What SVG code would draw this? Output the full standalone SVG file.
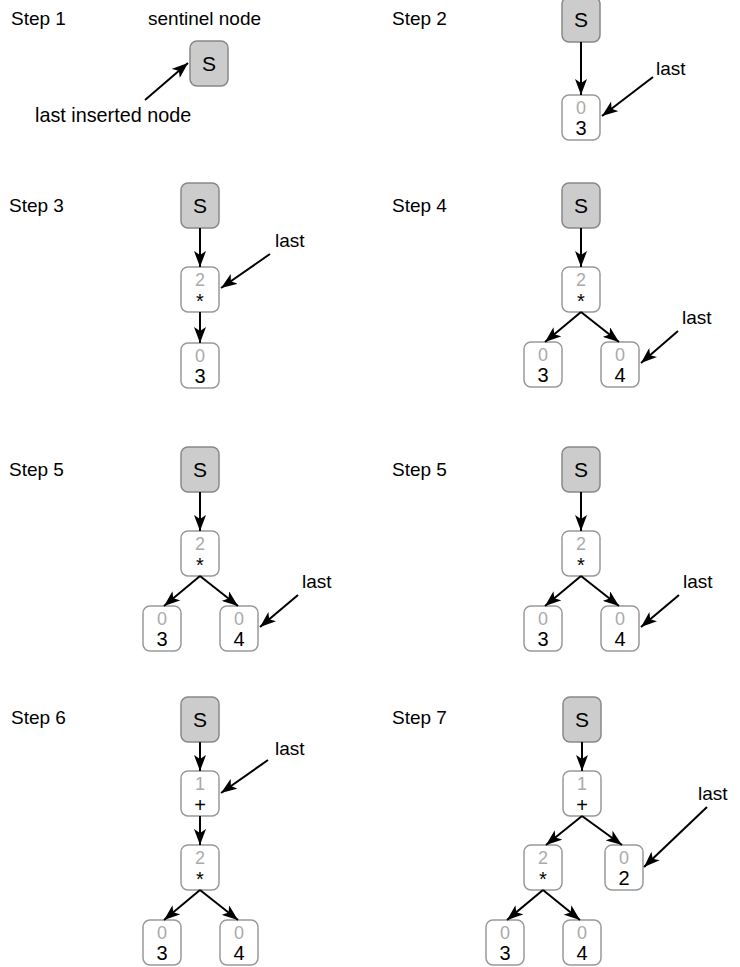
<svg xmlns="http://www.w3.org/2000/svg" width="740" height="967" viewBox="0 0 740 967">
  <style>
    text { font-family: "Liberation Sans", Arial, Helvetica, sans-serif; fill: #000; }
    .lbl { font-size: 19px; }
    .sent rect { fill: #cccccc; stroke: #888888; stroke-width: 1.5; }
    .sent text { font-size: 21px; text-anchor: middle; }
    .node rect { fill: #ffffff; stroke: #999999; stroke-width: 1.5; }
    .node .cnt { font-size: 18px; fill: #aaaaaa; text-anchor: middle; }
    .node .val { font-size: 20px; text-anchor: middle; }
    .edges line { stroke: #000; stroke-width: 2; marker-end: url(#arrow); }
  </style>
  <defs>
    <marker id="arrow" viewBox="0 0 16 12" refX="16" refY="6" markerWidth="16" markerHeight="12" markerUnits="userSpaceOnUse" orient="auto">
      <path d="M0,0 L16,6 L0,12 L4,6 Z" fill="#000"/>
    </marker>
  </defs>

  <rect width="740" height="967" fill="#ffffff"/>

  <!-- step labels and pointer captions -->
  <g id="labels" class="lbl">
    <text x="11" y="25">Step 1</text>
    <text x="148" y="25">sentinel node</text>
    <text x="35" y="122" style="font-size:19.8px">last inserted node</text>
    <text x="392" y="25">Step 2</text>
    <text x="656" y="75">last</text>
    <text x="9" y="212">Step 3</text>
    <text x="275" y="247">last</text>
    <text x="392" y="212">Step 4</text>
    <text x="682" y="324">last</text>
    <text x="9" y="476">Step 5</text>
    <text x="302" y="588">last</text>
    <text x="392" y="476">Step 5</text>
    <text x="683" y="588">last</text>
    <text x="11" y="724">Step 6</text>
    <text x="275" y="755">last</text>
    <text x="392" y="724">Step 7</text>
    <text x="698" y="800">last</text>
  </g>

  <!-- Step 1 -->
  <g id="s1-sentinel" class="sent"><rect x="190" y="41" width="38" height="45" rx="7"/><text x="209" y="71">S</text></g>

  <!-- Step 2 -->
  <g id="s2-sentinel" class="sent"><rect x="562" y="-3" width="38" height="45" rx="7"/><text x="581" y="27">S</text></g>
  <g id="s2-n3" class="node"><rect x="562" y="95" width="38" height="45" rx="7"/><text class="cnt" x="581" y="114">0</text><text class="val" x="581" y="135">3</text></g>

  <!-- Step 3 -->
  <g id="s3-sentinel" class="sent"><rect x="181" y="183" width="38" height="45" rx="7"/><text x="200" y="213">S</text></g>
  <g id="s3-mul" class="node"><rect x="181" y="267" width="38" height="45" rx="7"/><text class="cnt" x="200" y="286">2</text><text class="val" x="200" y="308">*</text></g>
  <g id="s3-n3" class="node"><rect x="181" y="343" width="38" height="45" rx="7"/><text class="cnt" x="200" y="362">0</text><text class="val" x="200" y="383">3</text></g>

  <!-- Step 4 -->
  <g id="s4-sentinel" class="sent"><rect x="562" y="183" width="38" height="45" rx="7"/><text x="581" y="213">S</text></g>
  <g id="s4-mul" class="node"><rect x="562" y="267" width="38" height="45" rx="7"/><text class="cnt" x="581" y="286">2</text><text class="val" x="581" y="308">*</text></g>
  <g id="s4-n3" class="node"><rect x="524" y="342" width="38" height="45" rx="7"/><text class="cnt" x="543" y="361">0</text><text class="val" x="543" y="382">3</text></g>
  <g id="s4-n4" class="node"><rect x="601" y="342" width="38" height="45" rx="7"/><text class="cnt" x="620" y="361">0</text><text class="val" x="620" y="382">4</text></g>

  <!-- Step 5 (left) -->
  <g id="s5a-sentinel" class="sent"><rect x="181" y="447" width="38" height="45" rx="7"/><text x="200" y="477">S</text></g>
  <g id="s5a-mul" class="node"><rect x="181" y="531" width="38" height="45" rx="7"/><text class="cnt" x="200" y="550">2</text><text class="val" x="200" y="572">*</text></g>
  <g id="s5a-n3" class="node"><rect x="143" y="606" width="38" height="45" rx="7"/><text class="cnt" x="162" y="625">0</text><text class="val" x="162" y="646">3</text></g>
  <g id="s5a-n4" class="node"><rect x="220" y="606" width="38" height="45" rx="7"/><text class="cnt" x="239" y="625">0</text><text class="val" x="239" y="646">4</text></g>

  <!-- Step 5 (right) -->
  <g id="s5b-sentinel" class="sent"><rect x="562" y="447" width="38" height="45" rx="7"/><text x="581" y="477">S</text></g>
  <g id="s5b-mul" class="node"><rect x="562" y="531" width="38" height="45" rx="7"/><text class="cnt" x="581" y="550">2</text><text class="val" x="581" y="572">*</text></g>
  <g id="s5b-n3" class="node"><rect x="524" y="606" width="38" height="45" rx="7"/><text class="cnt" x="543" y="625">0</text><text class="val" x="543" y="646">3</text></g>
  <g id="s5b-n4" class="node"><rect x="601" y="606" width="38" height="45" rx="7"/><text class="cnt" x="620" y="625">0</text><text class="val" x="620" y="646">4</text></g>

  <!-- Step 6 -->
  <g id="s6-sentinel" class="sent"><rect x="181" y="697" width="38" height="45" rx="7"/><text x="200" y="727">S</text></g>
  <g id="s6-add" class="node"><rect x="181" y="771" width="38" height="45" rx="7"/><text class="cnt" x="200" y="790">1</text><text class="val" x="200" y="812">+</text></g>
  <g id="s6-mul" class="node"><rect x="181" y="845" width="38" height="45" rx="7"/><text class="cnt" x="200" y="864">2</text><text class="val" x="200" y="886">*</text></g>
  <g id="s6-n3" class="node"><rect x="143" y="920" width="38" height="45" rx="7"/><text class="cnt" x="162" y="939">0</text><text class="val" x="162" y="960">3</text></g>
  <g id="s6-n4" class="node"><rect x="220" y="920" width="38" height="45" rx="7"/><text class="cnt" x="239" y="939">0</text><text class="val" x="239" y="960">4</text></g>

  <!-- Step 7 -->
  <g id="s7-sentinel" class="sent"><rect x="563" y="697" width="38" height="45" rx="7"/><text x="582" y="727">S</text></g>
  <g id="s7-add" class="node"><rect x="563" y="771" width="38" height="45" rx="7"/><text class="cnt" x="582" y="790">1</text><text class="val" x="582" y="812">+</text></g>
  <g id="s7-mul" class="node"><rect x="524" y="845" width="38" height="45" rx="7"/><text class="cnt" x="543" y="864">2</text><text class="val" x="543" y="886">*</text></g>
  <g id="s7-n2" class="node"><rect x="605" y="845" width="38" height="45" rx="7"/><text class="cnt" x="624" y="864">0</text><text class="val" x="624" y="885">2</text></g>
  <g id="s7-n3" class="node"><rect x="486" y="920" width="38" height="45" rx="7"/><text class="cnt" x="505" y="939">0</text><text class="val" x="505" y="960">3</text></g>
  <g id="s7-n4" class="node"><rect x="563" y="920" width="38" height="45" rx="7"/><text class="cnt" x="582" y="939">0</text><text class="val" x="582" y="960">4</text></g>

  <!-- connectors: tree edges and "last" pointers -->
  <g id="connectors" class="edges">
    <line x1="145" y1="100" x2="188" y2="63"/>

    <line x1="581" y1="42" x2="581" y2="95"/>
    <line x1="653" y1="77" x2="602" y2="116"/>

    <line x1="200" y1="228" x2="200" y2="267"/>
    <line x1="200" y1="312" x2="200" y2="343"/>
    <line x1="270" y1="254" x2="221" y2="288"/>

    <line x1="581" y1="228" x2="581" y2="267"/>
    <line x1="581" y1="312" x2="545" y2="342"/>
    <line x1="581" y1="312" x2="619" y2="342"/>
    <line x1="678" y1="331" x2="641" y2="363"/>

    <line x1="200" y1="492" x2="200" y2="531"/>
    <line x1="200" y1="576" x2="164" y2="606"/>
    <line x1="200" y1="576" x2="238" y2="606"/>
    <line x1="298" y1="595" x2="260" y2="627"/>

    <line x1="581" y1="492" x2="581" y2="531"/>
    <line x1="581" y1="576" x2="545" y2="606"/>
    <line x1="581" y1="576" x2="619" y2="606"/>
    <line x1="679" y1="595" x2="641" y2="627"/>

    <line x1="200" y1="742" x2="200" y2="771"/>
    <line x1="200" y1="816" x2="200" y2="845"/>
    <line x1="200" y1="890" x2="164" y2="920"/>
    <line x1="200" y1="890" x2="238" y2="920"/>
    <line x1="268" y1="760" x2="221" y2="793"/>

    <line x1="582" y1="742" x2="582" y2="771"/>
    <line x1="582" y1="816" x2="546" y2="845"/>
    <line x1="582" y1="816" x2="622" y2="845"/>
    <line x1="543" y1="890" x2="507" y2="920"/>
    <line x1="543" y1="890" x2="580" y2="920"/>
    <line x1="707" y1="807" x2="644" y2="867"/>
  </g>
</svg>
